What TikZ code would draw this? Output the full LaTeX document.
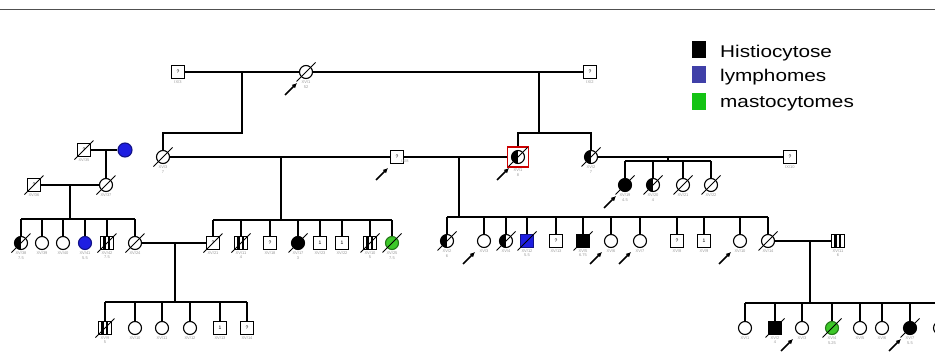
\documentclass[tikz,border=0pt]{standalone}
\usepackage{fontspec}
\setmainfont{Liberation Sans}
\usetikzlibrary{arrows.meta}
\definecolor{legblue}{RGB}{64,64,168}
\definecolor{nblue}{RGB}{30,30,225}
\definecolor{ngreen}{RGB}{60,200,40}
\definecolor{lgreen}{RGB}{20,195,20}
\definecolor{topgray}{RGB}{80,80,80}
\newcommand{\dd}[1]{\draw[slash] (#1.center) ++(-9.5,9.5) -- ++(19,-19);}
\newcommand{\pb}[1]{\draw[prob] (#1.center) ++(-21,23) -- ++(12,-12);}
\begin{document}
\begin{tikzpicture}[x=1pt,y=-1pt,
  sq/.style={draw, rectangle, minimum size=12.5pt, inner sep=0pt, fill=white, line width=1.1pt, font=\fontsize{5}{5}\selectfont},
  ci/.style={draw, circle, minimum size=13pt, inner sep=0pt, fill=white, line width=1.1pt},
  blk/.style={fill=black},
  blu/.style={fill=nblue, draw=nblue!60!black},
  grn/.style={fill=ngreen, draw=ngreen!60!black},
  half/.style={path picture={\fill[black] (path picture bounding box.south west) rectangle (path picture bounding box.north);}},
  bars/.style={path picture={\fill[black] ([xshift=-4pt]path picture bounding box.south) rectangle ([xshift=-1.5pt]path picture bounding box.north); \fill[black] ([xshift=1pt]path picture bounding box.south) rectangle ([xshift=2.5pt]path picture bounding box.north);}},
  every label/.append style={font=\fontsize{4}{4.5}\selectfont, text=black!40, align=center, inner sep=0.5pt},
  label distance=1pt,
  ln/.style={line width=1.1pt},
  slash/.style={line width=1pt},
  prob/.style={line width=1.7pt, -{Latex[length=5pt,width=5pt]}},
  legtxt/.style={anchor=base west, inner sep=0pt, font=\fontsize{17}{17}\selectfont},
  legbox/.style={minimum width=14pt, minimum height=17pt, inner sep=0pt}
]
\useasboundingbox (0,0) rectangle (935,356);
\fill[white] (0,0) rectangle (935,356);
\coordinate (tl) at (0,9.5); \coordinate (tr) at (935,9.5);
\draw[topgray, line width=1.5pt] (tl) -- (tr);

% legend
\node[legbox, fill=black] (kb) at (699,49.5) {};
\node[legbox, fill=legblue] (kl) at (699,74.5) {};
\node[legbox, fill=lgreen] (kg) at (699,101.5) {};
\node[legtxt] (tb) at (720,57) {\scalebox{1.22}[1]{Histiocytose}};
\node[legtxt] (tl2) at (720,81.5) {\scalebox{1.22}[1]{lymphomes}};
\node[legtxt] (tg) at (720,107) {\scalebox{1.22}[1]{mastocytomes}};

% generation I
\node[sq, label={below:IX/3}] (a1) at (178,72) {?};
\node[ci, label={below:XV/1\\52}] (a2) at (306,72) {};
\node[sq, label={below:IX/2}] (a3) at (590,72) {?};
\draw[ln] (a1) -- (a2); \draw[ln] (a2) -- (a3);
\dd{a2} \pb{a2}
\coordinate (m1) at (242,72); \coordinate (s1) at (242,133);
\coordinate (m2) at (539,72); \coordinate (s2) at (539,133);

% generation II
\node[ci, label={below:XV/3\\7}] (b1) at (163,157) {};
\node[sq, label={[xshift=8pt,yshift=6pt]below:IX/8}] (b2) at (397,157) {?};
\node[ci, half, label={[yshift=-3pt]below:XV/1\\8}] (b3) at (518,157) {};
\node[draw=red!80!black, line width=1.2pt, minimum width=21pt, minimum height=20pt, inner sep=0pt] (rb) at (518,157) {};
\node[ci, half, label={below:XV/2\\7}] (b4) at (591,157) {};
\node[sq, label={below:IX/10}] (b5) at (790,157) {?};
\draw[ln] (m1) -- (s1) -| (b1);
\draw[ln] (m2) -- (s2);
\draw[ln] (rb) |- (s2) -| (b4);
\draw[ln] (b1) -- (b2); \draw[ln] (b2) -- (rb); \draw[ln] (b4) -- (b5);
\dd{b1} \dd{b3} \dd{b4} \pb{b2} \pb{b3}

% children of b4 x b5
\coordinate (m4) at (668,157); \coordinate (s4) at (668,161);
\node[ci, blk, label={below:XV/19\\4.5}] (c1) at (625,185) {};
\node[ci, half, label={below:XV/20\\4}] (c2) at (653,185) {};
\node[ci, label={below:XV/21}] (c3) at (683,185) {};
\node[ci, label={below:XV/22}] (c4) at (711,185) {};
\draw[ln] (m4) -- (s4);
\draw[ln] (c1 |- s4) -- (c4 |- s4);
\foreach \n in {c1,c2,c3,c4} \draw[ln] (\n) -- (\n |- s4);
\dd{c1} \dd{c2} \dd{c3} \dd{c4} \pb{c1}

% left family
\node[sq, label={below:XV/35}] (l1) at (84,150) {?};
\node[ci, blu, minimum size=14pt] (l2) at (125,150) {};
\node[sq, label={below:XV/36}] (l3) at (34,185) {?};
\node[ci, label={below:XV/37}] (l4) at (106,185) {};
\coordinate (m5) at (106,150);
\draw[ln] (l1) -- (l2); \draw[ln] (m5) -- (l4); \draw[ln] (l3) -- (l4);
\dd{l1} \dd{l3} \dd{l4}
\coordinate (m6) at (70,185); \coordinate (s6) at (70,219);

% generation III left
\node[ci, half, label={below:XV/38\\7.5}] (d1) at (21,243) {};
\node[ci, label={below:XV/39}] (d2) at (42,243) {};
\node[ci, label={below:XV/40}] (d3) at (63,243) {};
\node[ci, blu, label={below:XV/41\\5.5}] (d4) at (85,243) {};
\node[sq, bars, label={below:XV/42\\7.5}] (d5) at (107,243) {};
\node[ci, label={below:XV/24}] (d6) at (135,243) {};
\draw[ln] (m6) -- (s6);
\draw[ln] (d1 |- s6) -- (d6 |- s6);
\foreach \n in {d1,d2,d3,d4,d5,d6} \draw[ln] (\n) -- (\n |- s6);
\dd{d1} \dd{d5} \dd{d6}

% generation III middle
\coordinate (m3) at (281,157); \coordinate (s3) at (281,220);
\node[sq, label={below:XV/21}] (e1) at (213,243) {?};
\node[sq, bars, label={below:XV/11\\4}] (e2) at (241,243) {};
\node[sq, label={below:XV/18}] (e3) at (270,243) {?};
\node[ci, blk, label={below:XV/17\\3}] (e4) at (298,243) {};
\node[sq, label={below:XV/23}] (e5) at (320,243) {1};
\node[sq, label={below:XV/22}] (e6) at (342,243) {1};
\node[sq, bars, label={below:XV/10\\5}] (e7) at (370,243) {};
\node[ci, grn, label={below:XV/25\\7.5}] (e8) at (392,243) {};
\draw[ln] (m3) -- (s3);
\draw[ln] (e1 |- s3) -- (e8 |- s3);
\foreach \n in {e1,e2,e3,e4,e5,e6,e7,e8} \draw[ln] (\n) -- (\n |- s3);
\draw[ln] (d6) -- (e1);
\dd{e1} \dd{e2} \dd{e4} \dd{e7} \dd{e8}

% generation IV left
\coordinate (m7) at (175,243); \coordinate (s7) at (175,302);
\node[sq, bars, label={below:XV/9\\5}] (f1) at (105,328) {};
\node[ci, label={below:XV/10}] (f2) at (135,328) {};
\node[ci, label={below:XV/11}] (f3) at (162,328) {};
\node[ci, label={below:XV/12}] (f4) at (190,328) {};
\node[sq, label={below:XV/13}] (f5) at (220,328) {1};
\node[sq, label={below:XV/14}] (f6) at (247,328) {?};
\draw[ln] (m7) -- (s7);
\draw[ln] (f1 |- s7) -- (f6 |- s7);
\foreach \n in {f1,f2,f3,f4,f5,f6} \draw[ln] (\n) -- (\n |- s7);
\dd{f1}

% generation III right
\coordinate (m8) at (459,157); \coordinate (s8) at (459,217);
\node[ci, half, label={below:XV/2\\6}] (g1) at (447,241) {};
\node[ci, label={below:XV/3}] (g2) at (484,241) {};
\node[ci, half, label={below:XV/4}] (g3) at (506,241) {};
\node[sq, blu, label={below:XV/12\\5.5}] (g4) at (527,241) {};
\node[sq, label={below:XV/13}] (g5) at (556,241) {?};
\node[sq, blk, label={below:XV/5\\6.75}] (g6) at (583,241) {};
\node[ci, label={below:XV/6}] (g7) at (611,241) {};
\node[ci, label={below:XV/7}] (g8) at (640,241) {};
\node[sq, label={below:XV/8}] (g9) at (677,241) {?};
\node[sq, label={below:XV/9}] (g10) at (704,241) {1};
\node[ci, label={below:XV/10}] (g11) at (740,241) {};
\node[ci, label={below:XV/14}] (g12) at (768,241) {};
\node[sq, bars, label={below:XV/11\\6}] (h1) at (838,241) {};
\draw[ln] (m8) -- (s8);
\draw[ln] (g1 |- s8) -- (g12 |- s8);
\foreach \n in {g1,g2,g3,g4,g5,g6,g7,g8,g9,g10,g11,g12} \draw[ln] (\n) -- (\n |- s8);
\draw[ln] (g12) -- (h1);
\dd{g1} \dd{g3} \dd{g4} \dd{g6} \dd{g12}
\pb{g2} \pb{g7} \pb{g8} \pb{g11}

% generation IV right
\coordinate (m9) at (810,241); \coordinate (s9) at (810,303); \coordinate (se) at (945,303);
\node[ci, label={below:XV/1}] (k1) at (745,328) {};
\node[sq, blk, label={below:XV/2\\4}] (k2) at (775,328) {};
\node[ci, label={below:XV/3}] (k3) at (802,328) {};
\node[ci, grn, label={below:XV/4\\5.25}] (k4) at (832,328) {};
\node[ci, label={below:XV/5}] (k5) at (860,328) {};
\node[ci, label={below:XV/6}] (k6) at (882,328) {};
\node[ci, blk, label={below:XV/7\\5.5}] (k7) at (910,328) {};
\node[ci] (k8) at (940,328) {};
\draw[ln] (m9) -- (s9);
\draw[ln] (k1 |- s9) -- (se);
\foreach \n in {k1,k2,k3,k4,k5,k6,k7,k8} \draw[ln] (\n) -- (\n |- s9);
\dd{k2} \dd{k4} \dd{k7}
\pb{k3} \pb{k7}
\end{tikzpicture}
\end{document}
